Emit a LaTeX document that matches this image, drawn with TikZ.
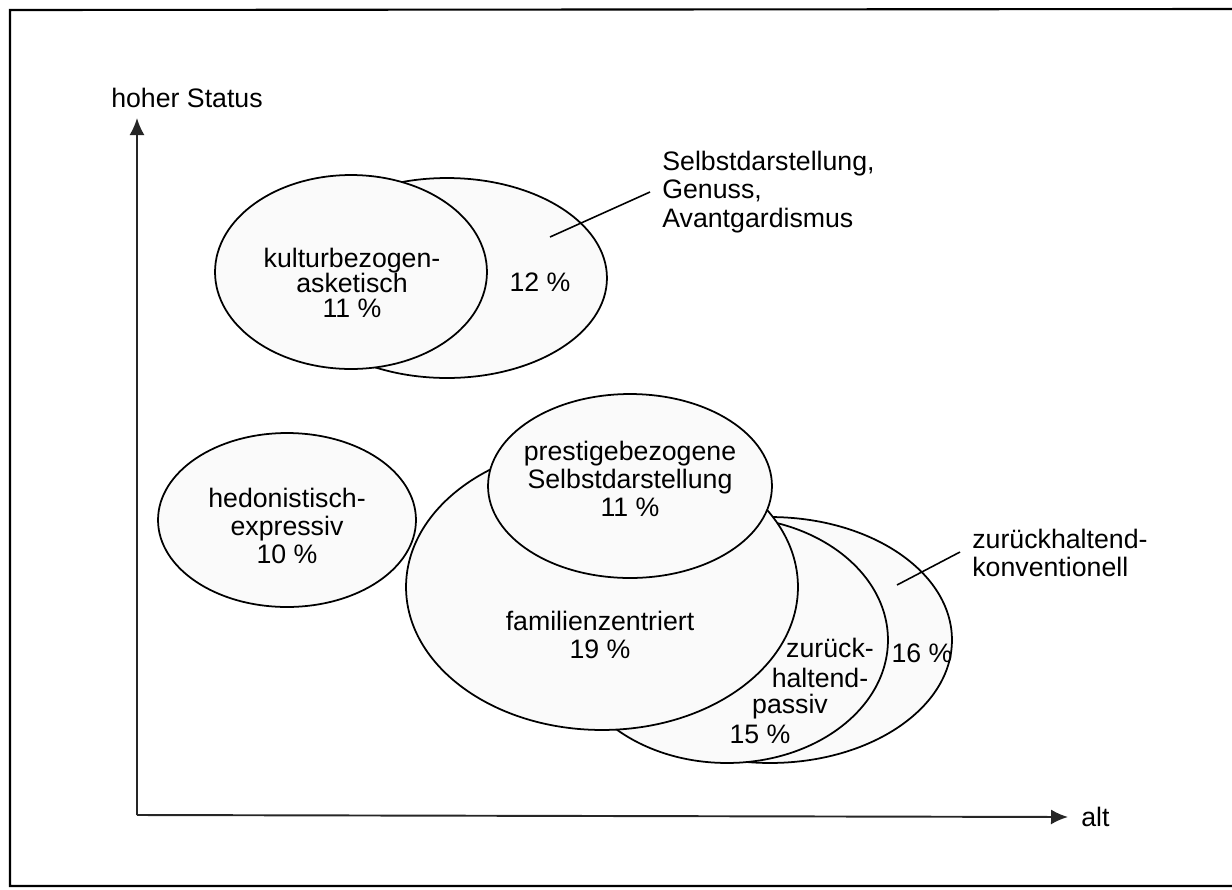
\documentclass[tikz,border=0pt]{standalone}
\usepackage{fontspec}
\setmainfont{Liberation Sans}
\usetikzlibrary{shapes.geometric,arrows.meta}
\begin{document}
\begin{tikzpicture}[x=0.02cm,y=-0.02cm]
\tikzset{
 blob/.style={ellipse, draw=black, line width=1pt, fill=black!2, inner sep=0pt, outer sep=0pt},
 lbl/.style={font=\fontsize{15.2}{16}\selectfont, align=center, inner sep=0pt},
 lblt/.style={font=\fontsize{15.2}{14.2}\selectfont, align=center, inner sep=0pt},
 lead/.style={line width=0.9pt},
 axisline/.style={draw=black!85, line width=1.1pt, -{Latex[length=0.34cm,width=0.3cm]}},
 framerule/.style={line width=1.2pt},
}
\useasboundingbox (0,0) rectangle (1232,890);
% frame
\draw[framerule] (1232,9) -- (10,10) -- (10,886) -- (1232,886);

% axes
\coordinate (O) at (137,815);
\coordinate (ytip) at (137,118);
\coordinate (xtip) at (1068,817);
\draw[axisline] (O) -- (ytip);
\draw[axisline] (O) -- (xtip);
\node[lbl, anchor=center] (ylab) at (187,98) {hoher Status};
\node[lbl, anchor=west] (xlab) at (1081,817) {alt};

% upper pair
\node[blob, minimum width=6.4cm, minimum height=4.0cm] (selbst) at (447,278) {};
\node[blob, minimum width=5.44cm, minimum height=3.88cm] (kultur) at (351,272) {};
\node[lblt] (kulturt) at (352,283) {kulturbezogen-\\asketisch\\11 \%};
\node[lbl] (selbstt) at (540,282) {12 \%};
\node[lbl, align=left, anchor=west] (selbstlab) at (662,192) {Selbstdarstellung,\\Genuss,\\Avantgardismus};
\coordinate (s1) at (550,237);
\coordinate (s2) at (650,192);
\draw[lead] (s1) -- (s2);

% hedonistisch
\node[blob, minimum width=5.16cm, minimum height=3.48cm] (hedon) at (287,520) {};
\node[lbl] (hedont) at (287,526) {hedonistisch-\\expressiv\\10 \%};

% lower cluster
\node[blob, minimum width=7.28cm, minimum height=4.92cm] (konv) at (770,640) {};
\node[blob, minimum width=6.44cm, minimum height=4.92cm] (passiv) at (727,640) {};
\node[blob, minimum width=7.84cm, minimum height=5.72cm] (famil) at (602,587) {};
\node[blob, minimum width=5.68cm, minimum height=3.68cm] (prest) at (630,486) {};

\node[lbl] (prestt) at (630,479) {prestigebezogene\\Selbstdarstellung\\11 \%};
\node[lbl] (familt) at (600,635) {familienzentriert\\19 \%};
\node[lbl] (p1) at (830,648) {zurück-};
\node[lbl] (p2) at (820,678) {haltend-};
\node[lbl] (p3) at (790,707) {passiv};
\node[lbl] (p4) at (760,734) {15 \%};
\node[lbl] (konvt) at (922,653) {16 \%};
\node[lbl, align=left, anchor=west] (konvlab) at (972,553) {zurückhaltend-\\konventionell};
\coordinate (k1) at (897,585);
\coordinate (k2) at (960,552);
\draw[lead] (k1) -- (k2);
\end{tikzpicture}
\end{document}
